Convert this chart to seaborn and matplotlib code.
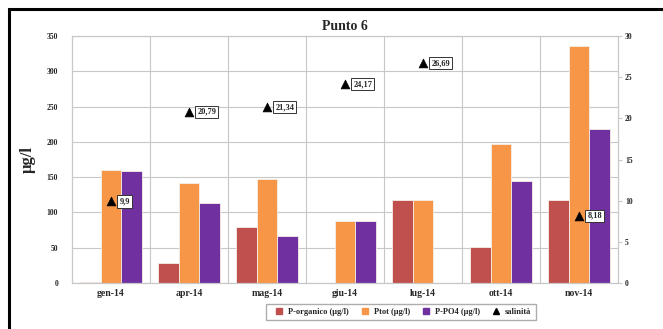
import numpy as np
import pandas as pd
import seaborn as sns
import matplotlib.pyplot as plt
from matplotlib.patches import Rectangle
from matplotlib.lines import Line2D

# Data
months = ["gen-14", "apr-14", "mag-14", "giu-14", "lug-14", "ott-14", "nov-14"]
p_organico = [1, 29, 79, 0, 118, 51, 118]
p_tot = [160, 142, 147, 88, 118, 197, 336]
p_po4 = [158, 113, 67, 88, 0, 145, 218]
salinita = [9.9, 20.79, 21.34, 24.17, 26.69, None, 8.18]

series_names = ["P-organico (µg/l)", "Ptot (µg/l)", "P-PO4 (µg/l)"]
colors = ["#C0504D", "#F79646", "#7030A0"]

df = pd.DataFrame({
    "mese": months * 3,
    "valore": p_organico + p_tot + p_po4,
    "serie": [s for s in series_names for _ in months],
})

sns.set_style("white")
plt.rcParams["font.family"] = ["Liberation Serif", "DejaVu Serif"]
plt.rcParams["font.weight"] = "bold"

fig = plt.figure(figsize=(6.63, 3.29), dpi=100)
ax = fig.add_axes([72 / 663, 1 - 283 / 329, 546 / 663, 247 / 329])

sns.barplot(data=df, x="mese", y="valore", hue="serie", palette=colors,
            saturation=1, width=0.8, edgecolor="#f5eee8", linewidth=0.6,
            ax=ax, legend=False)

ax.set_ylim(0, 350)
ax.set_yticks(range(0, 351, 50))
ax.set_xlim(-0.5, len(months) - 0.5)
ax.set_xticks(np.arange(len(months)))
ax.set_xticklabels(months, fontsize=7, fontweight="bold")
ax.tick_params(axis="y", labelsize=5.5, length=0, pad=10)
ax.tick_params(axis="x", length=0, pad=4)
ax.set_xlabel("")
ax.set_ylabel("µg/l", fontsize=12, fontweight="bold", labelpad=8)
ax.grid(axis="y", color="#c8c8c8", linewidth=0.8)
for b in np.arange(0.5, len(months) - 0.5, 1):
    ax.axvline(b, color="#c8c8c8", linewidth=0.8, zorder=0)
ax.set_axisbelow(True)
for s in ax.spines.values():
    s.set_color("#c8c8c8")
    s.set_linewidth(0.8)
ax.set_title("Punto 6", fontsize=10, fontweight="bold", pad=4)

# salinity on secondary axis
ax2 = ax.twinx()
pos = [i for i, v in enumerate(salinita) if v is not None]
vals = [v for v in salinita if v is not None]
sns.scatterplot(x=pos, y=vals, marker="^", color="black", s=40,
                edgecolor="black", ax=ax2, zorder=5)
for x, v in zip(pos, vals):
    lbl = f"{v:g}".replace(".", ",")
    ax2.annotate(lbl, (x, v), xytext=(6, 0), textcoords="offset points",
                 fontsize=6, fontweight="bold", va="center", ha="left",
                 bbox=dict(boxstyle="square,pad=0.25", fc="white",
                           ec="#333333", lw=0.7))
ax2.set_ylim(0, 30)
ax2.set_yticks(range(0, 31, 5))
ax2.tick_params(axis="y", labelsize=5.5, length=3, color="#c8c8c8", pad=2)
ax2.set_ylabel("")
for s in ax2.spines.values():
    s.set_color("#c8c8c8")
    s.set_linewidth(0.8)

# legend below
handles = [Line2D([], [], marker="s", color=c, linestyle="", markersize=4)
           for c in colors]
handles.append(Line2D([], [], marker="^", color="black", linestyle="", markersize=4))
fig.legend(handles, series_names + ["salinità"], loc="center",
           bbox_to_anchor=(401 / 663, 1 - 312 / 329), ncol=4, fontsize=6,
           frameon=True, fancybox=False, edgecolor="#999999",
           handletextpad=0.1, columnspacing=0.9, borderpad=0.5)

# outer frame
fig.patches.append(Rectangle((9 / 663, -0.1), 1.1, 1 + 0.1 - 9 / 329,
                             transform=fig.transFigure, fill=False,
                             edgecolor="black", linewidth=2.2))

fig.savefig("out.png", dpi=100)
